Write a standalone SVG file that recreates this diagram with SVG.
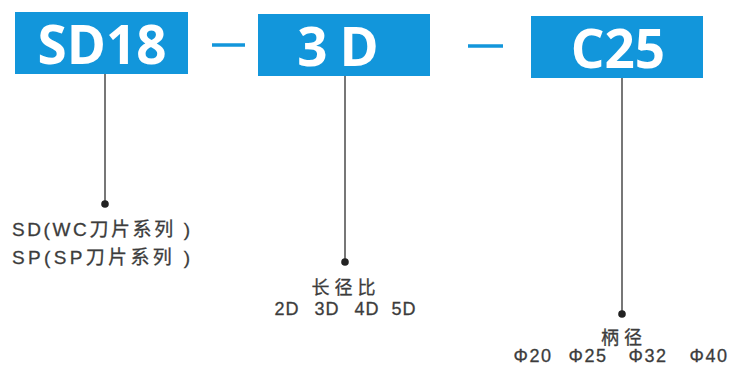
<svg xmlns="http://www.w3.org/2000/svg" width="734" height="367" viewBox="0 0 734 367">
<style>
.box{fill:#1296db}
.code{font-family:"Open Sans","DejaVu Sans",sans-serif;font-weight:bold;font-size:53px;fill:#fff;text-anchor:middle}
.dash{stroke:#1296db;stroke-width:3.5}
.lead{stroke:#555;stroke-width:1.6;fill:none}
.dot{fill:#222}
.lbl{font-family:"Liberation Sans","Noto Sans CJK SC",sans-serif;font-size:18px;fill:#3c3c3c;stroke:#3c3c3c;stroke-width:0.3}
.big{font-size:19px}
.mid{text-anchor:middle}
</style>
<rect width="734" height="367" fill="#fff"/>
<g id="node-sd18">
<rect class="box" x="15" y="12" width="173" height="62"/>
<text class="code" x="102" y="64">SD18</text>
</g>
<g id="node-3d">
<rect class="box" x="258" y="14" width="172" height="62"/>
<text class="code" x="344" y="66" letter-spacing="12">3D</text>
</g>
<g id="node-c25">
<rect class="box" x="531" y="16" width="172" height="62"/>
<text class="code" x="618" y="68">C25</text>
</g>
<g id="dashes">
<line class="dash" x1="212" y1="45" x2="245" y2="45"/>
<line class="dash" x1="468" y1="46" x2="503" y2="46"/>
</g>
<g id="connectors">
<line class="lead" x1="105" y1="74" x2="105" y2="204"/>
<circle class="dot" cx="105" cy="204" r="3.8"/>
<line class="lead" x1="345" y1="76" x2="345" y2="262"/>
<circle class="dot" cx="345" cy="262" r="3.8"/>
<line class="lead" x1="622" y1="78" x2="622" y2="314"/>
<circle class="dot" cx="622" cy="314" r="3.8"/>
</g>
<g id="label-sd">
<text class="lbl big" x="12" y="236" textLength="178" lengthAdjust="spacing">SD(WC刀片系列 )</text>
<text class="lbl big" x="12" y="264" textLength="178" lengthAdjust="spacing">SP(SP刀片系列 )</text>
</g>
<g id="label-3d">
<text class="lbl mid" x="346" y="294" letter-spacing="5">长径比</text>
<text class="lbl mid" x="287" y="315" letter-spacing="1">2D</text>
<text class="lbl mid" x="327" y="315" letter-spacing="1">3D</text>
<text class="lbl mid" x="367" y="315" letter-spacing="1">4D</text>
<text class="lbl mid" x="404" y="315" letter-spacing="1">5D</text>
</g>
<g id="label-c25">
<text class="lbl mid" x="624" y="344" letter-spacing="5">柄径</text>
<text class="lbl mid" x="533" y="362" letter-spacing="1.5">Φ20</text>
<text class="lbl mid" x="588" y="362" letter-spacing="1.5">Φ25</text>
<text class="lbl mid" x="648" y="362" letter-spacing="1.5">Φ32</text>
<text class="lbl mid" x="709" y="362" letter-spacing="1.5">Φ40</text>
</g>
</svg>
